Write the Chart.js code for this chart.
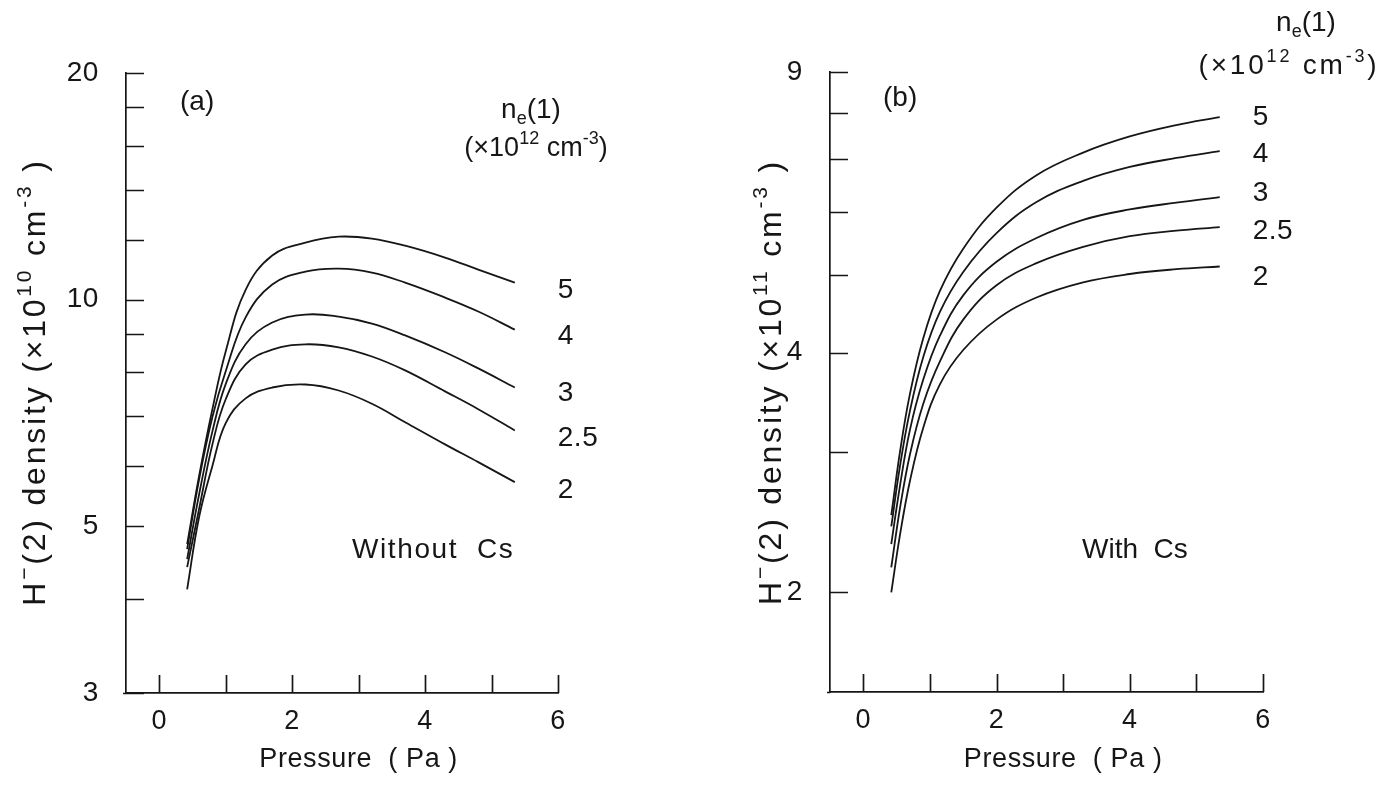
<!DOCTYPE html>
<html>
<head>
<meta charset="utf-8">
<script src="https://cdn.jsdelivr.net/npm/chart.js@4.4.1/dist/chart.umd.min.js"></script>
<style>
  html, body { margin: 0; padding: 0; background: #fff; }
  #wrap { position: relative; width: 1391px; height: 786px; overflow: hidden; background: #fff; }
  canvas { position: absolute; top: 0; }
  #chartA { left: 0; }
  #chartB { left: 695px; }
</style>
</head>
<body>
<div id="wrap">
  <canvas id="chartA" width="695" height="786"></canvas>
  <canvas id="chartB" width="696" height="786"></canvas>
</div>
<script>
// curve labels: n_e(1) in 1e12 cm^-3
const seriesNames = ['5', '4', '3', '2.5', '2'];

// (a) without Cs, H-(2) density in 1e10 cm^-3
const pressureA = [0.42, 0.6, 0.8, 1.0, 1.3, 1.7, 2.2, 2.7, 3.2, 3.7, 4.3, 4.8, 5.35];
const densityA5  = [4.73, 5.83, 7.15, 8.53, 10.3, 11.44, 11.9, 12.12, 12.05, 11.79, 11.37, 10.96, 10.53];
const densityA4  = [4.66, 5.77, 6.98, 8.03, 9.47, 10.47, 10.89, 10.99, 10.86, 10.53, 10.06, 9.64, 9.12];
const densityA3  = [4.52, 5.51, 6.68, 7.72, 8.72, 9.32, 9.55, 9.49, 9.29, 8.96, 8.51, 8.1, 7.64];
const densityA25 = [4.41, 5.27, 6.42, 7.37, 8.2, 8.58, 8.72, 8.64, 8.4, 8.05, 7.55, 7.15, 6.7];
const densityA2  = [4.12, 5.14, 6.01, 6.85, 7.39, 7.64, 7.71, 7.57, 7.27, 6.87, 6.42, 6.08, 5.72];

// (b) with Cs, H-(2) density in 1e11 cm^-3
const pressureB = [0.42, 0.55, 0.7, 0.9, 1.15, 1.5, 2.0, 2.6, 3.3, 4.0, 4.7, 5.35];
const densityB5  = [2.5, 3.0, 3.55, 4.17, 4.78, 5.4, 6.08, 6.68, 7.13, 7.47, 7.72, 7.9];
const densityB4  = [2.42, 2.88, 3.38, 3.95, 4.5, 5.05, 5.65, 6.18, 6.57, 6.84, 7.02, 7.16];
const densityB3  = [2.3, 2.72, 3.2, 3.7, 4.2, 4.72, 5.2, 5.57, 5.87, 6.05, 6.17, 6.27];
const densityB25 = [2.15, 2.55, 2.98, 3.45, 3.9, 4.4, 4.86, 5.18, 5.43, 5.6, 5.69, 5.75];
const densityB2  = [2.0, 2.36, 2.76, 3.22, 3.65, 4.03, 4.4, 4.69, 4.9, 5.02, 5.09, 5.13];

// ticks
const xTicks = [0, 1, 2, 3, 4, 5, 6];
const xTickLabels = [0, 2, 4, 6];
const yTicksA = [3, 4, 5, 6, 7, 8, 9, 10, 12, 14, 16, 18, 20];
const yTickLabelsA = [3, 5, 10, 20];
const yTicksB = [2, 3, 4, 5, 6, 7, 8, 9];
const yTickLabelsB = [2, 4, 9];

const FONT = '"Liberation Sans", Arial, Helvetica, sans-serif';
const INK = '#161616';

// text with super/subscripts, y = vertical centre of the main text
function drawRich(ctx, parts, x, y, size, align, spacing) {
  ctx.letterSpacing = (spacing || 0) + 'px';
  const small = Math.round(size * 0.66);
  let w = 0;
  parts.forEach(([t, kind]) => {
    ctx.font = (kind ? small : size) + 'px ' + FONT;
    w += ctx.measureText(t).width;
  });
  let cx = align === 'center' ? x - w / 2 : align === 'right' ? x - w : x;
  const base = y + size * 0.36;
  ctx.textAlign = 'left';
  ctx.textBaseline = 'alphabetic';
  parts.forEach(([t, kind]) => {
    ctx.font = (kind ? small : size) + 'px ' + FONT;
    const dy = kind === 'sup' ? -size * 0.42 : kind === 'sub' ? size * 0.2 : 0;
    ctx.fillText(t, cx, base + dy);
    cx += ctx.measureText(t).width;
  });
  ctx.letterSpacing = '0px';
}

// inward ticks, axis titles, free texts and curve end labels
const paperPlugin = {
  id: 'paper',
  beforeDraw(chart) {
    chart.ctx.letterSpacing = '0.6px';
  },
  afterDraw(chart, args, opts) {
    const ctx = chart.ctx;
    const xs = chart.scales.x, ys = chart.scales.y;
    const area = chart.chartArea;
    ctx.save();
    ctx.letterSpacing = '0px';
    ctx.strokeStyle = INK;
    ctx.lineWidth = 1.7;
    ctx.beginPath();
    ys.ticks.forEach(t => {
      const py = Math.round(ys.getPixelForValue(t.value)) + 0.5;
      ctx.moveTo(area.left, py);
      ctx.lineTo(area.left + opts.yTickLen, py);
    });
    xs.ticks.forEach(t => {
      const px = Math.round(xs.getPixelForValue(t.value)) + 0.5;
      ctx.moveTo(px, area.bottom);
      ctx.lineTo(px, area.bottom - opts.xTickLen);
    });
    ctx.moveTo(area.left - 3, area.bottom + 0.5);
    ctx.lineTo(area.left, area.bottom + 0.5);
    ctx.stroke();

    ctx.fillStyle = INK;

    // x title centred over the 0..6 tick span
    const x0 = xs.getPixelForValue(xTicks[0]);
    const x1 = xs.getPixelForValue(xTicks[xTicks.length - 1]);
    drawRich(ctx, [[opts.xTitle.text, '']], (x0 + x1) / 2, opts.xTitle.y, opts.xTitle.size, 'center', 0.6);

    ctx.save();
    ctx.translate(opts.yTitle.x, opts.yTitle.y);
    ctx.rotate(-Math.PI / 2);
    drawRich(ctx, opts.yTitle.parts, 0, 0, opts.yTitle.size, 'center', opts.yTitle.spacing);
    ctx.restore();

    opts.texts.forEach(t => drawRich(ctx, t.parts, t.x, t.y, t.size, t.align, t.spacing));

    chart.data.datasets.forEach((ds, i) => {
      const pts = chart.getDatasetMeta(i).data;
      const last = pts[pts.length - 1];
      drawRich(ctx, [[ds.label, '']], last.x + opts.endGap, last.y + opts.endNudge[i], opts.endSize, 'left', 0.5);
    });
    ctx.restore();
  }
};

function makeDatasets(pressure, columns) {
  return columns.map((col, i) => ({
    label: seriesNames[i],
    data: pressure.map((p, k) => ({ x: p, y: col[k] })),
    borderColor: INK,
    borderWidth: 1.8,
    pointRadius: 0,
    fill: false,
    tension: 0.4
  }));
}

function makeScales(yTicks, yLabels, yMin, yMax, yWidth, xHeight) {
  return {
    x: {
      type: 'linear',
      min: -0.5,
      max: 6,
      afterBuildTicks: s => { s.ticks = xTicks.map(v => ({ value: v })); },
      afterFit: s => { s.height = xHeight; },
      grid: { display: false, drawTicks: false },
      border: { display: true, color: INK, width: 1.7 },
      ticks: {
        color: INK,
        font: { family: FONT, size: 27 },
        padding: 12,
        maxRotation: 0,
        autoSkip: false,
        callback: v => xTickLabels.includes(v) ? String(v) : ''
      }
    },
    y: {
      type: 'logarithmic',
      min: yMin,
      max: yMax,
      afterBuildTicks: s => { s.ticks = yTicks.map(v => ({ value: v })); },
      afterFit: s => { s.width = yWidth; },
      grid: { display: false, drawTicks: false },
      border: { display: true, color: INK, width: 1.7 },
      ticks: {
        color: INK,
        font: { family: FONT, size: 28 },
        padding: 27,
        autoSkip: false,
        callback: v => yLabels.includes(v) ? String(v) : ''
      }
    }
  };
}

const legendHead = [['n', ''], ['e', 'sub'], ['(1)', '']];
const legendUnit = [['(×10', ''], ['12', 'sup'], [' cm', ''], ['-3', 'sup'], [')', '']];

new Chart(document.getElementById('chartA').getContext('2d'), {
  type: 'line',
  data: { datasets: makeDatasets(pressureA, [densityA5, densityA4, densityA3, densityA25, densityA2]) },
  options: {
    responsive: false,
    animation: false,
    devicePixelRatio: 1,
    layout: { padding: { top: 73, right: 137, bottom: 0, left: 0 } },
    scales: makeScales(yTicksA, yTickLabelsA, 3, 20, 126, 93),
    plugins: {
      legend: { display: false },
      tooltip: { enabled: false },
      paper: {
        yTickLen: 18,
        xTickLen: 18,
        endGap: 43,
        endNudge: [5, 4, 3, 6, 6],
        endSize: 28,
        xTitle: { text: 'Pressure  ( Pa )', y: 757, size: 27 },
        yTitle: {
          x: 33, y: 382, size: 32, spacing: 2.8,
          parts: [['H', ''], ['−', 'sup'], ['(2) density (×10', ''], ['10', 'sup'], [' cm', ''], ['-3', 'sup'], [' )', '']]
        },
        texts: [
          { parts: [['(a)', '']], x: 180, y: 100, size: 28, align: 'left' },
          { parts: legendHead, x: 531, y: 108, size: 28, align: 'center' },
          { parts: legendUnit, x: 536, y: 146, size: 27, align: 'center', spacing: 0 },
          { parts: [['Without  Cs', '']], x: 352, y: 548, size: 28, align: 'left', spacing: 1.6 }
        ]
      }
    }
  },
  plugins: [paperPlugin]
});

new Chart(document.getElementById('chartB').getContext('2d'), {
  type: 'line',
  data: { datasets: makeDatasets(pressureB, [densityB5, densityB4, densityB3, densityB25, densityB2]) },
  options: {
    responsive: false,
    animation: false,
    devicePixelRatio: 1,
    layout: { padding: { top: 72, right: 128, bottom: 0, left: 0 } },
    scales: makeScales(yTicksB, yTickLabelsB, 1.5, 9, 135, 94),
    plugins: {
      legend: { display: false },
      tooltip: { enabled: false },
      paper: {
        yTickLen: 18,
        xTickLen: 18,
        endGap: 33,
        endNudge: [-2, 1, -6, 2, 8],
        endSize: 28,
        xTitle: { text: 'Pressure  ( Pa )', y: 757, size: 27 },
        yTitle: {
          x: 74, y: 382, size: 32, spacing: 2.8,
          parts: [['H', ''], ['−', 'sup'], ['(2) density (×10', ''], ['11', 'sup'], [' cm', ''], ['-3', 'sup'], [' )', '']]
        },
        texts: [
          { parts: [['(b)', '']], x: 188, y: 96, size: 28, align: 'left' },
          { parts: legendHead, x: 611, y: 21, size: 28, align: 'center' },
          { parts: legendUnit, x: 594, y: 64, size: 28, align: 'center', spacing: 2.8 },
          { parts: [['With  Cs', '']], x: 387, y: 548, size: 28, align: 'left' }
        ]
      }
    }
  },
  plugins: [paperPlugin]
});
</script>
</body>
</html>
